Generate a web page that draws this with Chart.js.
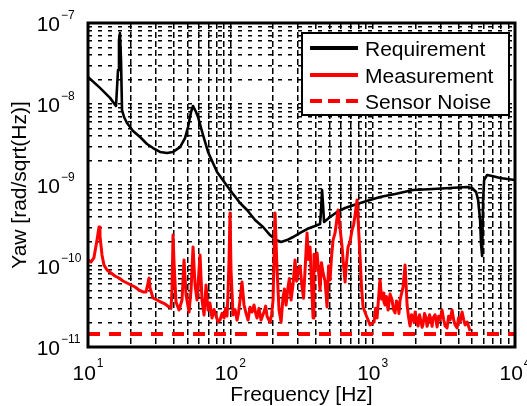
<!DOCTYPE html>
<html>
<head>
<meta charset="utf-8">
<script src="https://cdn.jsdelivr.net/npm/chart.js@4/dist/chart.umd.min.js"></script>
<style>
  html, body { margin: 0; padding: 0; background: #fff; }
  canvas { display: block; }
</style>
</head>
<body>
<canvas id="c" width="527" height="406"></canvas>
<script>
// ---------------- data ----------------
const seriesLabels = ['Requirement', 'Measurement', 'Sensor Noise'];

const reqFreq = [10, 12.14, 14.28, 15.73, 16.25, 16.51, 16.78, 17.06, 17.34, 17.91, 18.8, 20.72, 23.2, 25.98, 28.63, 32.06, 35.92, 39.57, 44.32, 48.05, 50.44, 52.96, 54.7, 57.41, 59.3, 64.29, 69.71, 80.64, 99.5, 117, 131, 149.2, 169.8, 190.1, 209.5, 227.2, 250.3, 275.8, 309, 345.9, 393.8, 427, 434, 441, 448.2, 455.5, 501.9, 562.2, 639.7, 776.9, 958.8, 1127, 1437, 1923, 2658, 3499, 4607, 4995, 5329, 5505, 5684, 5779, 5874, 5970, 6067, 6367, 6905, 7858, 10000];
const reqVal = [2.15e-8, 1.58e-8, 1.19e-8, 9.45e-9, 2.63e-8, 6.17e-8, 7.53e-8, 3.49e-8, 8.43e-9, 6.91e-9, 5.83e-9, 4.64e-9, 3.91e-9, 3.21e-9, 2.86e-9, 2.56e-9, 2.48e-9, 2.56e-9, 2.94e-9, 3.80e-9, 5.20e-9, 7.96e-9, 9.45e-9, 7.96e-9, 6.91e-9, 4.14e-9, 2.56e-9, 1.45e-9, 8.68e-10, 6.0e-10, 4.91e-10, 3.70e-10, 3.03e-10, 2.41e-10, 2.09e-10, 1.98e-10, 2.09e-10, 2.28e-10, 2.56e-10, 2.86e-10, 3.12e-10, 3.30e-10, 4.91e-10, 8.68e-10, 5.66e-10, 3.49e-10, 4.03e-10, 4.64e-10, 5.20e-10, 5.83e-10, 6.53e-10, 7.11e-10, 7.74e-10, 8.68e-10, 8.93e-10, 9.18e-10, 9.45e-10, 9.18e-10, 8.20e-10, 6.53e-10, 3.70e-10, 1.82e-10, 1.33e-10, 6.53e-10, 1.15e-9, 1.33e-9, 1.29e-9, 1.22e-9, 1.15e-9];

const measFreq = [10, 10.5, 11, 11.57, 11.95, 12.14, 12.54, 12.95, 13.6, 14.51, 15.48, 16.51, 17.62, 18.8, 20.05, 21.4, 22.82, 24.35, 25.56, 26.4, 26.83, 27.27, 28.63, 30.54, 32.58, 34.76, 37.09, 38.31, 38.93, 39.57, 40.21, 41.53, 43.6, 45.77, 47.28, 48.84, 51.27, 52.96, 54.7, 56.5, 58.34, 61.25, 63.26, 65.35, 67.49, 69.71, 71.9, 74.37, 76.8, 79.35, 81.9, 84.65, 87.4, 90.31, 92.5, 94.8, 96.3, 97.92, 99.5, 101.1, 104.5, 108, 111.4, 114, 117, 120.8, 124.8, 129, 133.2, 137.5, 142.1, 146.7, 150, 154, 159, 164.3, 168, 172.5, 177, 181.1, 185.5, 190.1, 195, 199.6, 206.2, 212.9, 219.9, 227.2, 234.6, 240, 246.3, 254.4, 260, 267.1, 276, 284.9, 292, 299.1, 309, 319.1, 327, 334.9, 345.9, 354, 363.2, 372, 381.3, 387, 393.8, 406.8, 416, 427, 437, 448.2, 463, 478, 490, 501.9, 514, 526.9, 544.3, 571.3, 609.5, 625, 639.7, 655, 671.6, 694, 716.5, 734, 752.2, 776.9, 815.5, 835, 856, 898.7, 958.8, 1023, 1048, 1074, 1100, 1127, 1155, 1183, 1200, 1222, 1250, 1283, 1325, 1369, 1400, 1437, 1470, 1508, 1530, 1558, 1635, 1689, 1745, 1790, 1832, 1875, 1923, 1955, 1987, 2035, 2084, 2135, 2189, 2225, 2261, 2315, 2373, 2410, 2451, 2510, 2573, 2615, 2658, 2745, 2836, 2905, 2975, 3073, 3150, 3227, 3333, 3415, 3499, 3614, 3700, 3794, 3919, 4010, 4114, 4249, 4355, 4461, 4607, 4720, 4836];
const measVal = [1.19e-10, 1.12e-10, 1.26e-10, 2.09e-10, 3.03e-10, 2.35e-10, 1.37e-10, 1.03e-10, 8.93e-11, 8.20e-11, 7.53e-11, 7.11e-11, 6.53e-11, 6.17e-11, 5.83e-11, 5.50e-11, 5.05e-11, 4.78e-11, 4.78e-11, 6.17e-11, 7.11e-11, 5.35e-11, 4.03e-11, 3.80e-11, 3.59e-11, 3.40e-11, 3.12e-11, 3.03e-11, 5.05e-11, 2.41e-10, 1.12e-10, 3.59e-11, 2.86e-11, 3.80e-11, 1.19e-10, 4.39e-11, 2.70e-11, 5.05e-11, 1.72e-10, 5.83e-11, 3.80e-11, 1.37e-10, 3.80e-11, 2.48e-11, 5.83e-11, 2.86e-11, 3.5e-11, 2.28e-11, 2.9e-11, 2.41e-11, 2.05e-11, 2.15e-11, 2.6e-11, 2.28e-11, 3.0e-11, 2.41e-11, 4.5e-11, 1.19e-10, 4.51e-10, 8.93e-11, 2.48e-11, 2.9e-11, 2.15e-11, 2.6e-11, 3.80e-11, 6.34e-11, 3.30e-11, 2.6e-11, 2.15e-11, 3.1e-11, 2.70e-11, 3.30e-11, 2.7e-11, 2.28e-11, 3.0e-11, 2.15e-11, 2.4e-11, 2.70e-11, 3.2e-11, 2.41e-11, 2.2e-11, 2.03e-11, 2.5e-11, 3.80e-11, 4.51e-10, 8.93e-11, 2.86e-11, 2.03e-11, 4.14e-11, 5.2e-11, 3.30e-11, 5.50e-11, 7.0e-11, 3.80e-11, 6.0e-11, 1.19e-10, 6.5e-11, 8.93e-11, 1.0e-10, 5.50e-11, 4.0e-11, 8.93e-11, 2.56e-10, 1.2e-10, 1.72e-10, 6.0e-11, 2.28e-11, 1.4e-10, 8.93e-11, 1.45e-10, 9.0e-11, 5.05e-11, 1.1e-10, 8.20e-11, 6.5e-11, 3.12e-11, 1.0e-10, 6.72e-11, 1.3e-10, 2.09e-10, 2.56e-10, 4.91e-10, 1.72e-10, 1.0e-10, 6.34e-11, 1.1e-10, 1.72e-10, 2.0e-10, 2.78e-10, 3.2e-10, 4.26e-10, 6.53e-10, 1.29e-10, 5.5e-11, 3.12e-11, 2.48e-11, 1.87e-11, 2.03e-11, 3.0e-11, 2.28e-11, 4.0e-11, 6.72e-11, 3.9e-11, 4.64e-11, 3.6e-11, 3.30e-11, 4.2e-11, 2.86e-11, 4.5e-11, 3.80e-11, 2.9e-11, 2.63e-11, 3.7e-11, 3.30e-11, 2.6e-11, 3.80e-11, 5.50e-11, 1.03e-10, 3.30e-11, 2.3e-11, 1.82e-11, 2.5e-11, 2.28e-11, 2.0e-11, 2.70e-11, 2.2e-11, 1.82e-11, 2.5e-11, 2.03e-11, 1.75e-11, 1.92e-11, 2.6e-11, 2.28e-11, 1.8e-11, 2.03e-11, 2.5e-11, 2.15e-11, 1.8e-11, 2.28e-11, 2.5e-11, 1.77e-11, 2.4e-11, 2.15e-11, 2.86e-11, 2.2e-11, 1.82e-11, 1.72e-11, 2.4e-11, 2.15e-11, 2.86e-11, 2.2e-11, 1.87e-11, 1.72e-11, 2.3e-11, 2.03e-11, 2.70e-11, 2.2e-11, 1.87e-11, 2.03e-11, 1.8e-11, 1.58e-11];

const noiseFreq = [10, 10000];
const noiseVal = [1.45e-11, 1.45e-11];

// axis ticks
const xMajorTicks = [10, 100, 1000, 10000];
const xTickExp = ['1', '2', '3', '4'];
const yMajorTicks = [1e-11, 1e-10, 1e-9, 1e-8, 1e-7];
const yTickExp = ['\u221211', '\u221210', '\u22129', '\u22128', '\u22127'];
const minorMultipliers = [1, 2, 3, 4, 5, 6, 7, 8, 9];
const xTitle = 'Frequency [Hz]';
const yTitle = 'Yaw [rad/sqrt(Hz)]';

// ---------------- helpers ----------------
function gridValues(majors) {
  const out = [];
  majors.forEach((m, i) => {
    if (i === majors.length - 1) { out.push(m); return; }
    minorMultipliers.forEach(k => out.push(m * k));
  });
  return out;
}
const xGrid = gridValues(xMajorTicks);
const yGrid = gridValues(yMajorTicks);
const pts = (fs, vs) => fs.map((f, i) => ({ x: f, y: vs[i] }));

const FONT = '"Liberation Sans", Arial, sans-serif';

const decor = {
  id: 'decor',
  afterDraw(chart) {
    const { ctx, chartArea: a, scales: { x, y } } = chart;
    ctx.save();
    // frame
    ctx.setLineDash([]);
    ctx.strokeStyle = '#000';
    ctx.lineWidth = 3;
    ctx.strokeRect(a.left, a.top, a.right - a.left, a.bottom - a.top);

    ctx.fillStyle = '#000';
    ctx.textAlign = 'left';
    ctx.textBaseline = 'alphabetic';
    // x tick labels
    xMajorTicks.forEach((v, i) => {
      const px = x.getPixelForValue(v);
      ctx.font = '21px ' + FONT;
      const w1 = ctx.measureText('10').width;
      ctx.font = '12px ' + FONT;
      const w2 = ctx.measureText(xTickExp[i]).width;
      const start = px - (w1 + w2 + 1) / 2;
      ctx.font = '21px ' + FONT;
      ctx.fillText('10', start, a.bottom + 33);
      ctx.font = '12px ' + FONT;
      ctx.fillText(xTickExp[i], start + w1 + 1, a.bottom + 20);
    });
    // y tick labels
    yMajorTicks.forEach((v, i) => {
      const py = y.getPixelForValue(v);
      ctx.font = '21px ' + FONT;
      ctx.textAlign = 'right';
      ctx.fillText('10', a.left - 28, py + 8);
      ctx.font = '12px ' + FONT;
      ctx.textAlign = 'left';
      ctx.fillText(yTickExp[i], a.left - 27, py - 4);
    });
    // axis titles
    ctx.font = '21px ' + FONT;
    ctx.textAlign = 'center';
    ctx.fillText(xTitle, (a.left + a.right) / 2, 401);
    ctx.save();
    ctx.translate(26, (a.top + a.bottom) / 2);
    ctx.rotate(-Math.PI / 2);
    ctx.fillText(yTitle, 0, 0);
    ctx.restore();

    // legend
    const lx = 302, ly = 33, lw = 207, lh = 82;
    ctx.fillStyle = '#fff';
    ctx.fillRect(lx, ly, lw, lh);
    ctx.strokeStyle = '#000';
    ctx.lineWidth = 2;
    ctx.strokeRect(lx, ly, lw, lh);
    const rows = [48, 75, 101];
    chart.data.datasets.forEach((ds, i) => {
      const ry = rows[i];
      ctx.beginPath();
      ctx.strokeStyle = ds.borderColor;
      ctx.lineWidth = 4;
      ctx.setLineDash(ds.borderDash && ds.borderDash.length ? [12, 6] : []);
      ctx.moveTo(310, ry);
      ctx.lineTo(358, ry);
      ctx.stroke();
      ctx.setLineDash([]);
      ctx.fillStyle = '#000';
      ctx.font = '21px ' + FONT;
      ctx.textAlign = 'left';
      ctx.fillText(ds.label, 365, ry + 8);
    });
    ctx.restore();
  }
};

const gridOpts = () => ({
  color: '#000',
  lineWidth: 1.5,
  drawTicks: false,
});

new Chart(document.getElementById('c'), {
  type: 'line',
  data: {
    datasets: [
      { label: seriesLabels[0], data: pts(reqFreq, reqVal), borderColor: '#000', borderWidth: 2.6, order: 3 },
      { label: seriesLabels[1], data: pts(measFreq, measVal), borderColor: '#ff0000', borderWidth: 3, order: 2 },
      { label: seriesLabels[2], data: pts(noiseFreq, noiseVal), borderColor: '#ff0000', borderWidth: 4, borderDash: [12, 9], order: 1 }
    ]
  },
  options: {
    responsive: false,
    devicePixelRatio: 1,
    animation: false,
    elements: { point: { radius: 0 }, line: { tension: 0, borderJoinStyle: 'round', borderCapStyle: 'butt' } },
    layout: { padding: { left: 88, right: 12, top: 23, bottom: 59 } },
    plugins: { legend: { display: false }, tooltip: { enabled: false }, title: { display: false } },
    scales: {
      x: {
        type: 'logarithmic', min: 10, max: 10000,
        afterBuildTicks: s => { s.ticks = xGrid.map(v => ({ value: v })); },
        afterFit: s => { s.height = 0; },
        ticks: { display: false },
        grid: gridOpts(),
        border: { display: false, dash: [6, 3] }
      },
      y: {
        type: 'logarithmic', min: 1e-11, max: 1e-7,
        afterBuildTicks: s => { s.ticks = yGrid.map(v => ({ value: v })); },
        afterFit: s => { s.width = 0; },
        ticks: { display: false },
        grid: gridOpts(),
        border: { display: false, dash: [4, 6] }
      }
    }
  },
  plugins: [decor]
});
</script>
</body>
</html>
